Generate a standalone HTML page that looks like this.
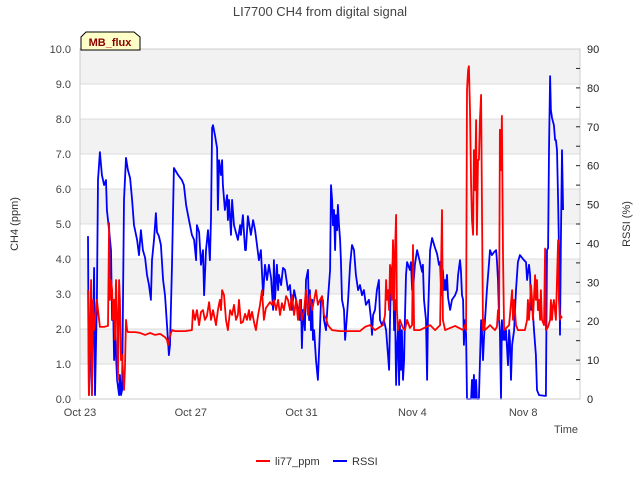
<!DOCTYPE html>
<html><head><meta charset="utf-8"><style>
body{margin:0;background:#fff;}
svg{font-family:"Liberation Sans","DejaVu Sans",sans-serif;}
</style></head><body>
<svg id="chart" width="640" height="480" viewBox="0 0 640 480" xmlns="http://www.w3.org/2000/svg">
<text x="320" y="16" text-anchor="middle" font-size="13" fill="#444">LI7700 CH4 from digital signal</text>
<g id="bands"></g>
<g id="grid"></g>
<g id="series"></g>
<rect x="80" y="49" width="500" height="350" fill="none" stroke="#ccc"/>
<g id="axes"></g>
<text transform="translate(18,224) rotate(-90)" text-anchor="middle" font-size="11" fill="#333">CH4 (ppm)</text>
<text transform="translate(630,224) rotate(-90)" text-anchor="middle" font-size="11" fill="#333">RSSI (%)</text>
<text x="566" y="433" text-anchor="middle" font-size="11" fill="#444">Time</text>
<g>
<path d="M81,50 L81,37 L86,32 L134,32 L140,37 L140,50 Z" fill="#ffffc8" stroke="#000" stroke-width="1"/>
<text x="110" y="46" text-anchor="middle" font-size="11" font-weight="bold" fill="#8b0000">MB_flux</text>
</g>
<g>
<g><line x1="256" y1="461" x2="270" y2="461" stroke="#f00" stroke-width="2"/><text x="275" y="465" font-size="11" fill="#333">li77_ppm</text></g>
<g><line x1="333" y1="461" x2="347" y2="461" stroke="#00f" stroke-width="2"/><text x="352" y="465" font-size="11" fill="#333">RSSI</text></g>
</g>
</svg>
<script>
const xTickLabels=["Oct 23","Oct 27","Oct 31","Nov 4","Nov 8"];
const xTickDays=[0,4,8,12,16];
const leftTicks=[0,1,2,3,4,5,6,7,8,9,10];
const rightTicks=[0,10,20,30,40,50,60,70,80,90];
const rssiDays=[.29,.32,.40,.43,.51,.54,.61,.65,.72,.79,.87,.94,.97,1.05,1.12,1.16,1.19,1.23,1.26,1.34,1.41,1.44,1.48,1.52,1.59,1.66,1.73,1.81,1.88,1.95,2.06,2.13,2.20,2.27,2.35,2.42,2.49,2.56,2.60,2.67,2.74,2.78,2.85,2.92,3.00,3.07,3.14,3.21,3.25,3.32,3.39,3.54,3.68,3.75,3.83,3.90,3.97,4.04,4.12,4.19,4.22,4.30,4.37,4.44,4.48,4.55,4.62,4.69,4.73,4.77,4.80,4.87,4.95,4.98,5.02,5.09,5.13,5.16,5.23,5.31,5.34,5.38,5.45,5.49,5.56,5.70,5.78,5.81,5.88,5.96,5.99,6.06,6.17,6.25,6.32,6.39,6.46,6.53,6.61,6.68,6.75,6.82,6.90,6.97,7.00,7.04,7.11,7.15,7.18,7.26,7.33,7.40,7.51,7.58,7.65,7.73,7.80,7.87,7.94,7.98,8.01,8.05,8.12,8.16,8.23,8.27,8.30,8.34,8.38,8.41,8.45,8.52,8.59,8.66,8.70,8.77,8.81,8.88,8.95,9.03,9.06,9.10,9.13,9.17,9.21,9.24,9.28,9.31,9.35,9.39,9.42,9.46,9.53,9.57,9.60,9.68,9.75,9.82,9.89,9.96,10.04,10.11,10.18,10.25,10.32,10.43,10.51,10.54,10.58,10.65,10.72,10.79,10.83,10.90,10.97,11.05,11.12,11.16,11.19,11.23,11.30,11.34,11.37,11.41,11.44,11.48,11.52,11.55,11.59,11.62,11.66,11.70,11.73,11.77,11.81,11.91,11.95,11.99,12.02,12.09,12.17,12.27,12.35,12.38,12.42,12.49,12.53,12.56,12.60,12.64,12.71,12.82,12.89,12.96,13.00,13.03,13.07,13.10,13.14,13.18,13.21,13.25,13.29,13.36,13.43,13.54,13.61,13.65,13.72,13.75,13.79,13.83,13.86,13.90,13.94,13.97,14.12,14.15,14.19,14.22,14.26,14.30,14.33,14.40,14.48,14.51,14.55,14.58,14.62,14.69,14.77,14.80,14.87,14.95,15.02,15.05,15.09,15.13,15.16,15.20,15.23,15.27,15.31,15.34,15.38,15.45,15.49,15.52,15.56,15.60,15.67,15.74,15.81,15.88,16.03,16.10,16.14,16.21,16.25,16.28,16.32,16.39,16.46,16.50,16.57,16.79,16.82,16.86,16.90,16.93,16.97,17.00,17.04,17.11,17.15,17.18,17.22,17.26,17.29,17.33,17.36,17.40,17.44];
const rssiValues=[41.9,1.0,17.7,1,33.7,1,25.5,56.3,63.5,57.6,55.0,56.3,48.6,43.4,38.3,20.3,25.5,10.0,17.7,4.9,1,6.2,1,2.3,51.2,62.0,58.9,56.8,51.2,44.7,40.9,37.0,43.4,38.3,36.3,31.9,29.3,25.5,35.7,40.9,47.8,42.9,41.9,39.6,30.6,26.7,19.0,11.3,13.9,34.5,59.4,57.6,56.3,55.0,49.9,47.3,44.7,42.2,40.9,35.7,44.7,42.9,34.5,38.3,26.7,38.3,43.4,35.7,46.5,69.7,70.4,67.9,64.5,48.6,61.4,57.6,61.4,55.0,48.6,52.4,46.0,51.2,42.2,51.2,44.7,40.9,44.7,42.2,47.3,38.3,38.3,47.0,42.2,46.0,43.4,39.6,35.7,38.3,26.7,34.5,30.6,34.5,31.1,22.9,35.7,25.5,34.5,28.0,31.9,29.3,33.7,33.2,28.0,29.3,22.9,28.0,25.5,22.9,20.3,25.5,13.1,22.9,17.7,30.6,33.2,20.3,28.0,17.7,25.5,15.2,17.7,10.0,4.9,17.7,25.5,25.5,20.3,17.7,25.5,33.2,55.0,51.2,44.7,48.6,38.3,47.3,43.4,49.9,44.7,40.9,35.7,25.5,22.9,15.2,17.7,25.5,34.5,39.6,38.3,31.9,28.0,29.3,26.7,28.0,24.2,25.5,20.3,16.5,21.6,22.9,28.0,30.6,20.3,19.0,20.3,17.7,11.3,7.5,20.3,31.9,35.7,17.7,25.5,3.6,12.6,17.7,3.6,19.0,7.5,17.7,4.9,10.0,20.3,31.9,35.2,33.2,35.2,28.0,28.0,34.5,38.3,35.2,32.7,34.5,25.5,20.3,4.9,20.3,29.3,38.3,41.4,38.8,37.3,34.5,35.2,29.3,26.7,33.2,28.0,30.6,28.0,31.9,26.0,22.9,25.5,26.7,28.0,31.9,35.7,33.2,26.7,25.5,13.9,20.3,16.5,0,0,4.9,0,6.2,0,4.9,0,0,20.3,17.7,10.0,15.2,20.3,28.0,35.2,38.3,37.0,37.8,38.3,35.7,30.6,20.3,17.7,0,20.3,15.2,17.7,15.2,17.7,8.7,17.7,15.2,4.9,13.9,17.7,28.0,35.2,37.0,35.7,35.2,30.6,34.5,31.9,22.9,25.5,17.7,11.3,2.3,1.0,0.8,0.8,38.3,38.8,64.0,83.0,74.3,72.3,70.4,66.6,66.6,64.0,51.2,39.6,16.5,40.9,64.0,48.6];
const ch4Days=[.29,.32,.36,.40,.43,.47,.51,.54,.61,.69,.72,.87,1.01,1.05,1.08,1.12,1.16,1.19,1.23,1.26,1.30,1.34,1.37,1.41,1.44,1.48,1.52,1.59,1.62,1.66,1.70,1.73,1.99,2.17,2.35,2.53,2.71,2.89,3.07,3.14,3.18,3.25,3.32,3.43,3.79,4.04,4.08,4.15,4.22,4.30,4.37,4.44,4.51,4.58,4.66,4.73,4.80,4.91,4.98,5.05,5.09,5.13,5.20,5.27,5.34,5.42,5.49,5.56,5.63,5.70,5.74,5.81,5.88,5.96,6.03,6.10,6.14,6.21,6.28,6.35,6.43,6.50,6.57,6.64,6.71,6.79,6.86,6.93,7.00,7.08,7.15,7.22,7.29,7.36,7.44,7.51,7.58,7.65,7.73,7.80,7.87,7.94,8.01,8.09,8.16,8.23,8.30,8.38,8.45,8.52,8.59,8.66,8.74,8.81,8.88,8.95,9.03,9.10,9.39,9.75,10.11,10.29,10.47,10.65,10.83,10.94,11.01,11.05,11.08,11.12,11.16,11.19,11.23,11.26,11.30,11.34,11.37,11.41,11.44,11.48,11.55,11.66,11.73,11.81,11.91,11.99,12.02,12.06,12.27,12.64,12.82,13.00,13.07,13.10,13.18,13.54,13.83,13.90,13.94,13.97,14.01,14.04,14.08,14.12,14.15,14.19,14.22,14.26,14.30,14.33,14.37,14.40,14.44,14.48,14.51,14.55,14.58,14.62,14.80,14.98,15.05,15.09,15.13,15.16,15.20,15.23,15.27,15.31,15.49,15.60,15.63,15.67,15.74,15.81,16.06,16.14,16.17,16.21,16.28,16.32,16.35,16.43,16.46,16.50,16.53,16.57,16.61,16.64,16.68,16.75,16.79,16.82,16.90,16.97,17.00,17.04,17.08,17.11,17.18,17.22,17.26,17.29,17.33,17.36,17.40];
const ch4Values=[3.11,.11,1.83,3.40,.11,2.83,1.97,2.26,2.83,2.26,2.06,2.06,2.09,5.03,2.83,3.40,3.11,2.26,2.83,1.69,3.40,2.26,.54,3.40,2.83,1.11,1.26,.26,.83,2.26,1.97,1.91,1.91,1.89,1.83,1.89,1.83,1.86,1.77,1.69,1.54,1.80,1.97,1.94,1.94,1.97,2.54,2.26,2.54,2.11,2.49,2.54,2.26,2.37,2.77,2.26,2.54,2.11,2.54,2.83,2.54,3.11,2.97,2.26,1.97,2.54,2.40,2.69,2.26,2.40,2.83,2.17,2.20,2.43,2.26,2.54,2.26,2.49,2.20,1.97,2.40,2.69,3.11,2.26,2.60,2.69,2.77,2.69,2.83,2.54,2.83,2.40,2.74,2.54,2.94,2.83,2.54,2.97,2.40,2.83,2.26,2.83,2.26,2.54,3.11,2.40,2.97,2.54,2.83,3.11,2.69,2.83,2.94,2.40,2.31,2.11,2.03,1.97,1.94,1.94,1.94,2.06,2.11,1.97,2.06,2.11,2.40,3.40,2.83,3.11,2.54,3.83,3.11,2.83,4.54,2.54,4.11,5.26,2.54,1.97,2.26,2.03,1.97,2.26,2.03,2.11,4.40,1.97,1.97,2.11,1.97,2.11,5.40,2.26,1.97,2.09,1.97,2.11,1.97,8.83,9.40,9.51,8.26,6.11,5.11,4.69,7.11,5.97,7.97,4.69,6.83,6.83,8.03,8.69,5.69,1.97,2.26,1.97,2.11,1.97,2.06,2.54,2.26,7.69,6.54,8.09,4.11,1.97,2.11,3.11,2.26,2.83,2.11,1.97,1.97,2.26,2.83,2.26,3.26,2.83,2.26,3.54,2.83,3.40,2.54,2.83,2.26,3.11,2.26,2.11,4.30,1.97,2.06,2.26,2.83,2.26,2.69,2.83,2.26,3.40,4.54,2.83,2.26,2.37,2.31];

const NS="http://www.w3.org/2000/svg";
const X0=80,X1=580,Y0=399,Y1=49;
const xScale=d=>X0+d*27.7;
const yLeft=v=>Y0-(v/10)*(Y0-Y1);
const yRight=v=>Y0-(v/90)*(Y0-Y1);
function mk(tag,attrs,parent){const e=document.createElementNS(NS,tag);for(const k in attrs)e.setAttribute(k,attrs[k]);parent.appendChild(e);return e;}
const bands=document.getElementById('bands'),grid=document.getElementById('grid'),axes=document.getElementById('axes'),series=document.getElementById('series');
for(let i=1;i<10;i+=2){
  const r=mk('rect',{x:X0,y:yLeft(i+1),width:X1-X0,height:yLeft(i)-yLeft(i+1),fill:'#f2f2f2'},bands);
  
  
}
leftTicks.forEach(v=>{
  const l=mk('line',{x1:X0,x2:X1,y1:yLeft(v),y2:yLeft(v),stroke:'#dcdcdc'},grid);
  
  
  const t=mk('text',{x:71,y:yLeft(v)+4,'text-anchor':'end','font-size':11,fill:'#444'},axes);
  t.textContent=v.toFixed(1);
  
  
});
rightTicks.forEach(v=>{
  const t=mk('text',{x:587,y:yRight(v)+4,'font-size':11,fill:'#222'},axes);
  t.textContent=String(v);
  
  
});
for(let v=5;v<90;v+=5){
  const l=mk('line',{x1:X1-4,x2:X1,y1:yRight(v),y2:yRight(v),stroke:'#222'},axes);
  
  
}
xTickDays.forEach((d,i)=>{
  const t=mk('text',{x:xScale(d),y:416,'text-anchor':'middle','font-size':11,fill:'#444'},axes);
  t.textContent=xTickLabels[i];
  
  
});
const bp=rssiDays.map((d,i)=>xScale(d).toFixed(1)+','+yRight(rssiValues[i]).toFixed(1)).join(' ');
const bl=mk('polyline',{points:bp,fill:'none',stroke:'#00f','stroke-width':1.8,'stroke-linejoin':'round'},series);


const rp=ch4Days.map((d,i)=>xScale(d).toFixed(1)+','+yLeft(ch4Values[i]).toFixed(1)).join(' ');
const rl=mk('polyline',{points:rp,fill:'none',stroke:'#f00','stroke-width':1.8,'stroke-linejoin':'round'},series);


</script>
</body></html>
